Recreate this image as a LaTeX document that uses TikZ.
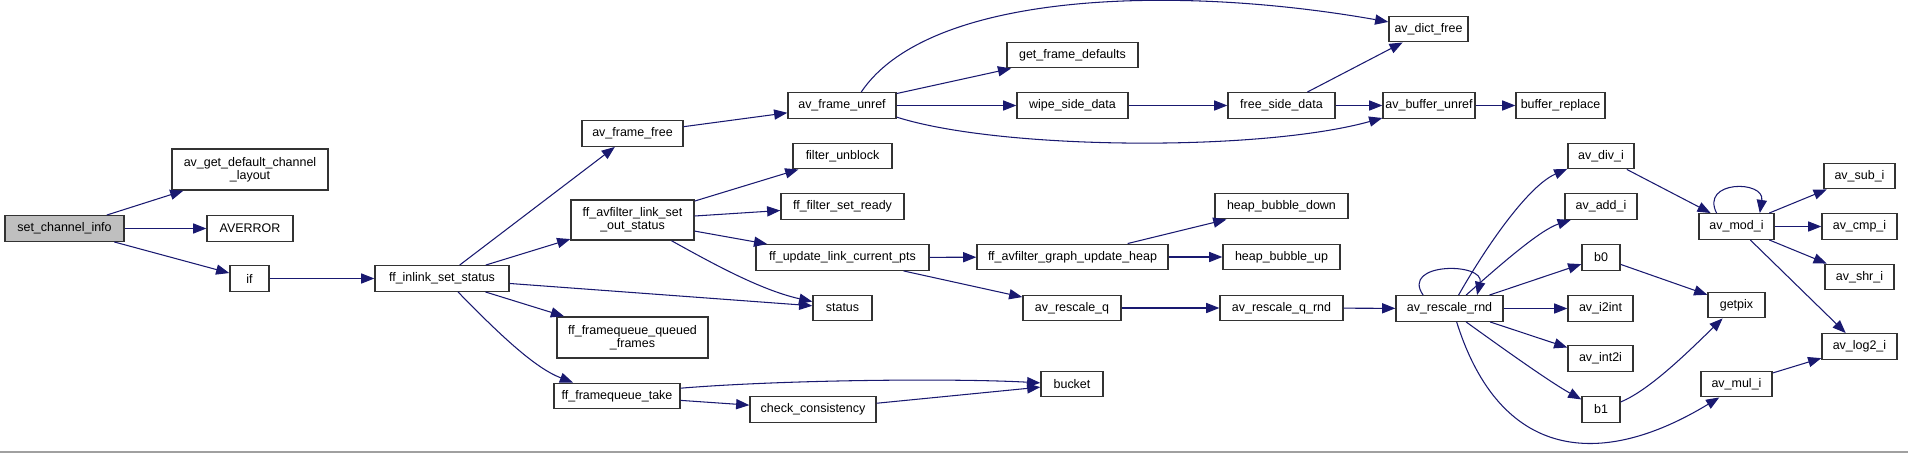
\documentclass[tikz,border=0pt]{standalone}
\usepackage{fontspec}
\setmainfont{Liberation Sans}
\usepackage{tikz}
\usetikzlibrary{arrows.meta}
\definecolor{edgeblue}{HTML}{191970}
\definecolor{rootgray}{HTML}{BFBFBF}
\definecolor{rulegray}{HTML}{A0A0A0}

\tikzset{
  fn/.style={draw=black!80, line width=0.8pt, fill=white, inner sep=0pt,
    minimum height=0.51cm, align=center, font=\fontsize{7.1}{7.6}\selectfont},
  call/.style={->, draw=edgeblue, line width=0.6pt},
}

\begin{document}
\begin{tikzpicture}[x = 0.02cm, y = -0.02cm, >={Triangle[length=7.5pt,width=5.8pt]}]

    % Cornice
    \useasboundingbox (0,0) rectangle (1908,453);
    \draw[rulegray, line width=0.9pt] (0,452) -- (1908,452);

    % Colonna 1
    \node[fn, fill=rootgray, minimum width=2.38cm] (scinfo) at (64.5,228.5) {set\_channel\_info};

    % Colonna 2
    \node[fn, minimum width=3.12cm, minimum height=0.82cm] (getlayout) at (250,169.5) {av\_get\_default\_channel\\\_layout};
    \node[fn, minimum width=1.72cm] (averror) at (250,228.5) {AVERROR};
    \node[fn, minimum width=0.78cm] (if) at (249.5,278.5) {if};

    % Colonna 3
    \node[fn, minimum width=2.68cm] (inlink) at (442,278.5) {ff\_inlink\_set\_status};

    % Colonna 4
    \node[fn, minimum width=2.02cm] (framefree) at (632.5,133.5) {av\_frame\_free};
    \node[fn, minimum width=2.46cm, minimum height=0.8cm] (setout) at (632.5,220) {ff\_avfilter\_link\_set\\\_out\_status};
    \node[fn, minimum width=3.02cm, minimum height=0.82cm] (queued) at (632.5,337.5) {ff\_framequeue\_queued\\\_frames};
    \node[fn, minimum width=2.52cm] (take) at (617,396) {ff\_framequeue\_take};

    % Colonna 5
    \node[fn, minimum width=2.16cm] (frameunref) at (842,105.5) {av\_frame\_unref};
    \node[fn, minimum width=1.98cm] (unblock) at (842.5,156) {filter\_unblock};
    \node[fn, minimum width=2.46cm] (setready) at (842.5,206.5) {ff\_filter\_set\_ready};
    \node[fn, minimum width=3.46cm] (updpts) at (842.5,257.5) {ff\_update\_link\_current\_pts};
    \node[fn, minimum width=1.18cm] (status) at (842.5,308) {status};
    \node[fn, minimum width=2.52cm] (checkc) at (813,409.5) {check\_consistency};

    % Colonna 6
    \node[fn, minimum width=2.62cm] (getdef) at (1072.5,55) {get\_frame\_defaults};
    \node[fn, minimum width=2.22cm] (wipe) at (1072.5,105.5) {wipe\_side\_data};
    \node[fn, minimum width=3.82cm] (updheap) at (1072.5,257) {ff\_avfilter\_graph\_update\_heap};
    \node[fn, minimum width=1.96cm] (rescaleq) at (1072,308) {av\_rescale\_q};
    \node[fn, minimum width=1.24cm] (bucket) at (1072,384) {bucket};

    % Colonna 7
    \node[fn, minimum width=2.14cm] (freeside) at (1281.5,105.5) {free\_side\_data};
    \node[fn, minimum width=2.66cm] (bdown) at (1281.5,206) {heap\_bubble\_down};
    \node[fn, minimum width=2.34cm] (bup) at (1281.5,257) {heap\_bubble\_up};
    \node[fn, minimum width=2.46cm] (rescaleqrnd) at (1281.5,308) {av\_rescale\_q\_rnd};

    % Colonna 8
    \node[fn, minimum width=1.58cm] (dictfree) at (1428.5,29) {av\_dict\_free};
    \node[fn, minimum width=1.84cm] (bufunref) at (1429,105.5) {av\_buffer\_unref};
    \node[fn, minimum width=2.14cm] (rescalernd) at (1449.5,308.5) {av\_rescale\_rnd};

    % Colonna 9
    \node[fn, minimum width=1.78cm] (bufrepl) at (1560.5,105.5) {buffer\_replace};
    \node[fn, minimum width=1.32cm] (divi) at (1601,156) {av\_div\_i};
    \node[fn, minimum width=1.44cm] (addi) at (1601,206.5) {av\_add\_i};
    \node[fn, minimum width=0.76cm] (b0) at (1601,257.5) {b0};
    \node[fn, minimum width=1.30cm] (i2int) at (1600.5,308.5) {av\_i2int};
    \node[fn, minimum width=1.30cm] (int2i) at (1600.5,358.5) {av\_int2i};
    \node[fn, minimum width=0.76cm] (b1) at (1601,409.5) {b1};

    % Colonna 10
    \node[fn, minimum width=1.50cm] (modi) at (1736.5,226.5) {av\_mod\_i};
    \node[fn, minimum width=1.14cm] (getpix) at (1736.5,305) {getpix};
    \node[fn, minimum width=1.42cm] (muli) at (1736.5,384) {av\_mul\_i};

    % Colonna 11
    \node[fn, minimum width=1.42cm] (subi) at (1859.5,176) {av\_sub\_i};
    \node[fn, minimum width=1.50cm] (cmpi) at (1859.5,226.5) {av\_cmp\_i};
    \node[fn, minimum width=1.38cm] (shri) at (1859.5,277) {av\_shr\_i};
    \node[fn, minimum width=1.50cm] (log2i) at (1859.5,346.5) {av\_log2\_i};

    % Chiamate
    \draw[call] (scinfo) -- (getlayout);
    \draw[call] (scinfo) -- (averror);
    \draw[call] (scinfo) -- (if);
    \draw[call] (if) -- (inlink);

    \draw[call] (inlink) -- (framefree);
    \draw[call] (inlink) -- (setout);
    \draw[call] (inlink) -- (status);
    \draw[call] (inlink) -- (queued);
    \draw[call] (inlink.-40) .. controls (500,335) and (535,368) .. (take.163);

    \draw[call] (framefree) -- (frameunref);
    \draw[call] (frameunref.35) .. controls (930,-10) and (1180,-15) .. (dictfree.170);
    \draw[call] (frameunref) -- (getdef);
    \draw[call] (frameunref) -- (wipe);
    \draw[call] (frameunref.-12) .. controls (1000,150) and (1260,152) .. (bufunref.-165);
    \draw[call] (wipe) -- (freeside);
    \draw[call] (freeside) -- (dictfree);
    \draw[call] (freeside) -- (bufunref);
    \draw[call] (bufunref) -- (bufrepl);

    \draw[call] (setout) -- (unblock);
    \draw[call] (setout) -- (setready);
    \draw[call] (setout) -- (updpts);
    \draw[call] (setout.-28) .. controls (710,262) and (760,290) .. (status.168);

    \draw[call] (updpts) -- (updheap);
    \draw[call] (updpts) -- (rescaleq);
    \draw[call] (updheap) -- (bdown);
    \draw[call] (updheap) -- (bup);
    \draw[call] (rescaleq) -- (rescaleqrnd);
    \draw[call] (rescaleqrnd) -- (rescalernd);

    \draw[call] (take.7) .. controls (780,380) and (950,378) .. (bucket.178);
    \draw[call] (take) -- (checkc);
    \draw[call] (checkc) -- (bucket);

    \draw[call] (rescalernd.153) .. controls (1400,262) and (1485,262) .. (rescalernd.26);
    \draw[call] (rescalernd.56) .. controls (1490,240) and (1530,185) .. (divi.-159);
    \draw[call] (rescalernd.39) .. controls (1500,265) and (1540,230) .. (addi.-156);
    \draw[call] (rescalernd) -- (b0);
    \draw[call] (rescalernd) -- (i2int);
    \draw[call] (rescalernd) -- (int2i);
    \draw[call] (rescalernd.-39) .. controls (1505,350) and (1550,382) .. (b1.153);
    \draw[call] (rescalernd.-62) .. controls (1500,460) and (1600,470) .. (muli.-142);

    \draw[call] (divi) -- (modi);
    \draw[call] (modi.146) .. controls (1700,180) and (1765,180) .. (modi.30);
    \draw[call] (modi) -- (subi);
    \draw[call] (modi) -- (cmpi);
    \draw[call] (modi) -- (shri);
    \draw[call] (modi) -- (log2i);
    \draw[call] (b0) -- (getpix);
    \draw[call] (b1.21) .. controls (1650,390) and (1690,350) .. (getpix.-136);
    \draw[call] (muli) -- (log2i);

\end{tikzpicture}
\end{document}
